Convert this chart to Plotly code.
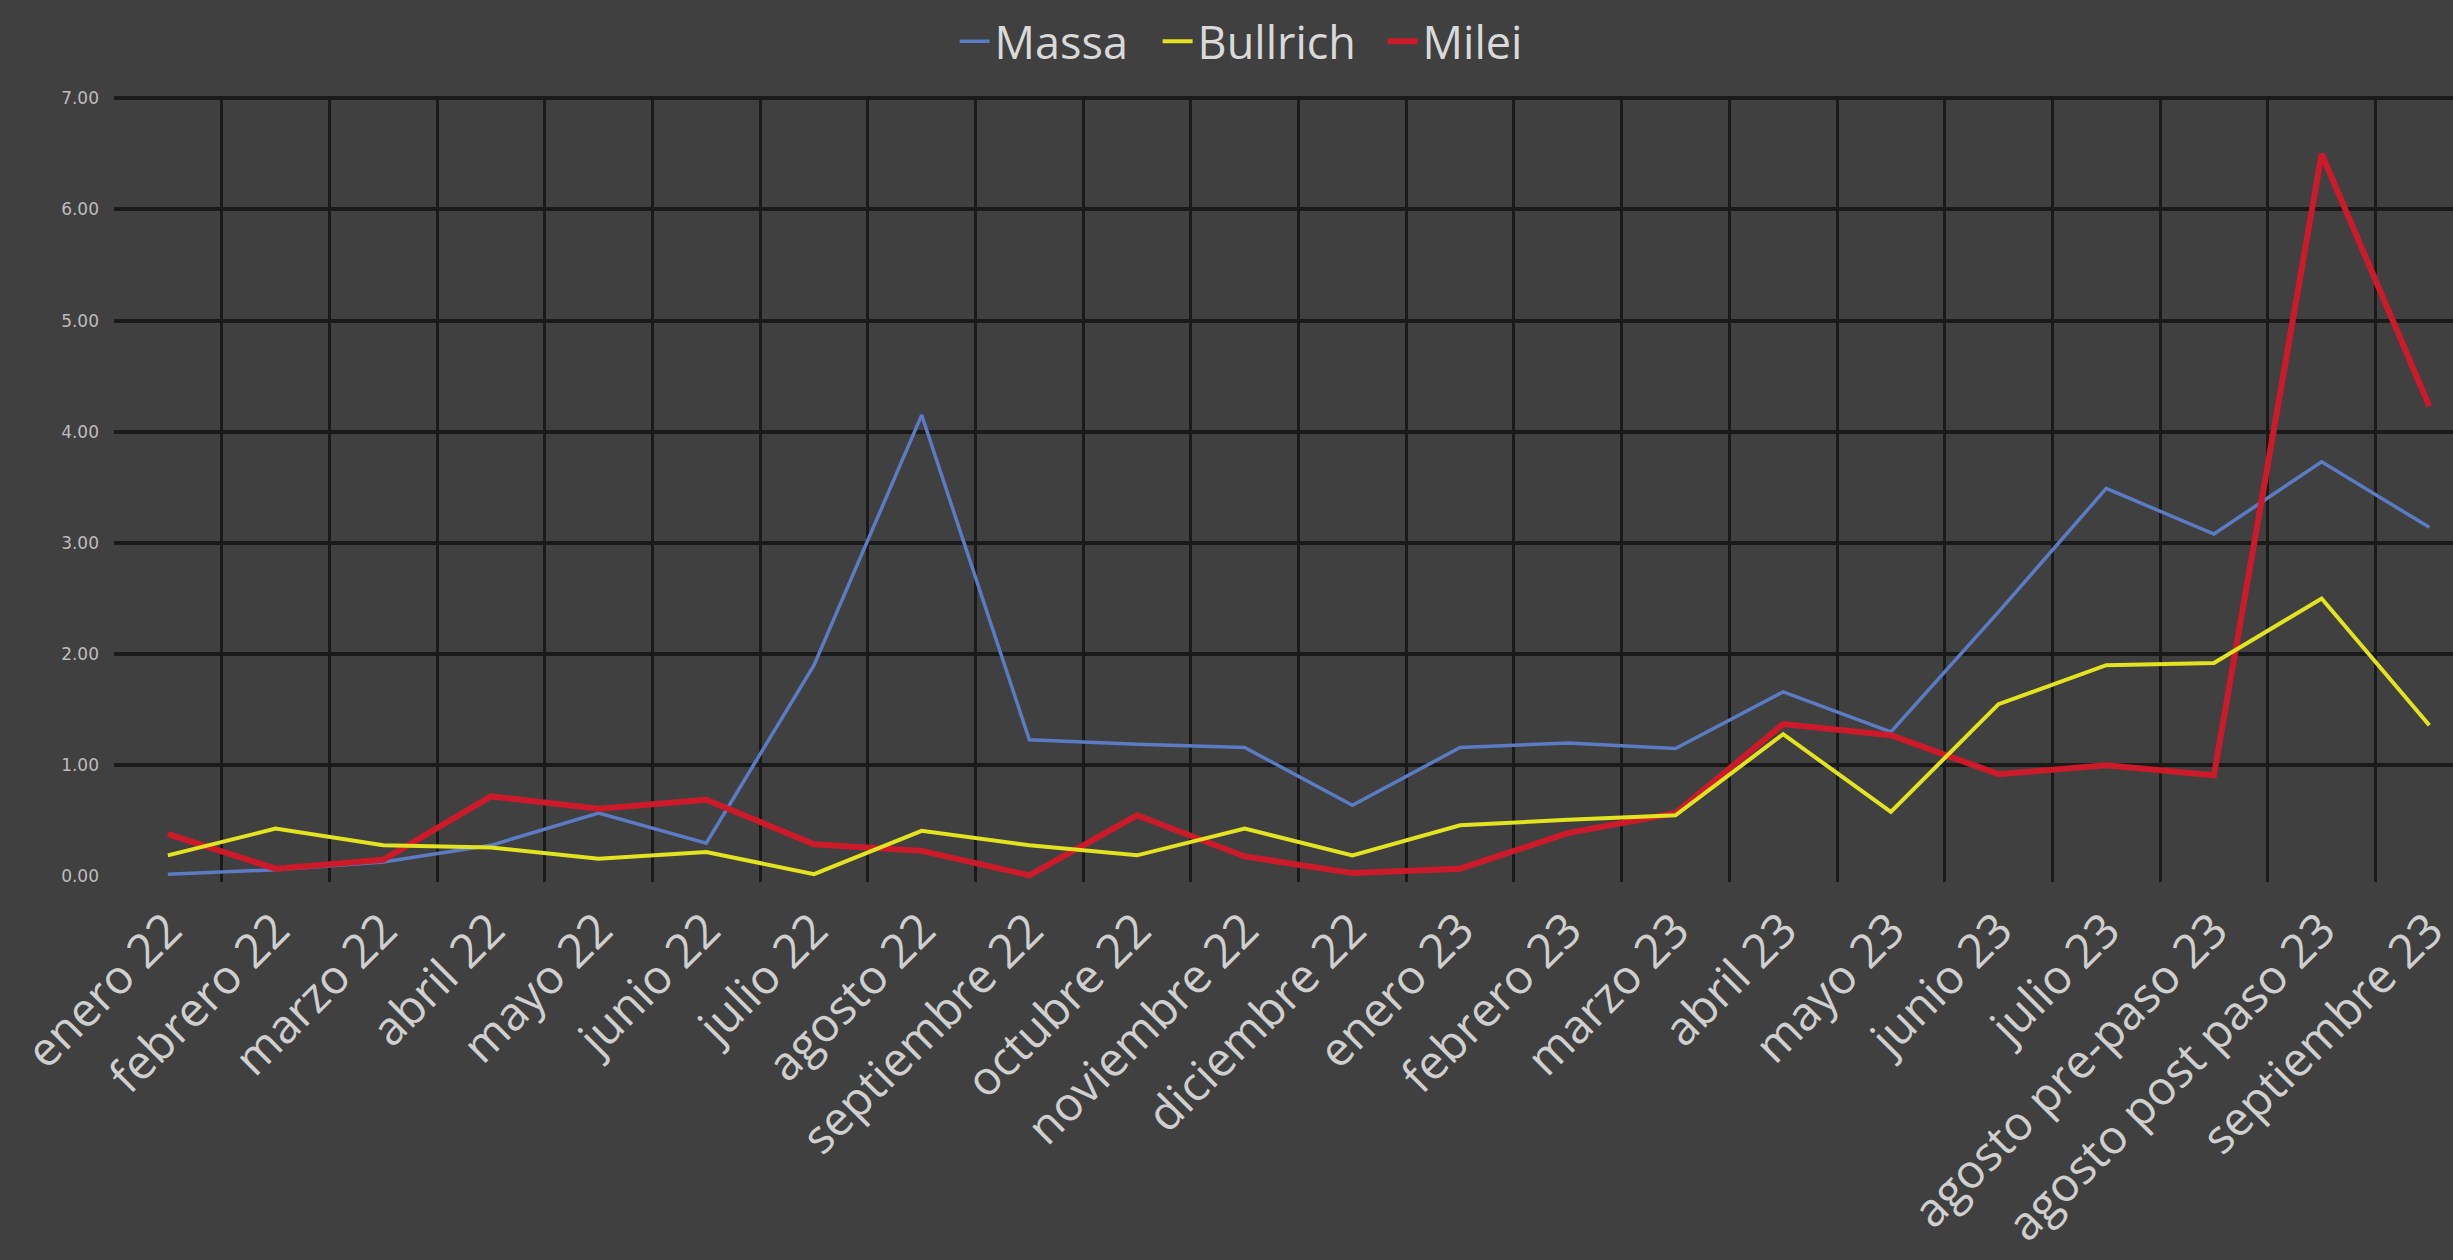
import plotly.graph_objects as go

categories = [
    "enero 22", "febrero 22", "marzo 22", "abril 22", "mayo 22", "junio 22",
    "julio 22", "agosto 22", "septiembre 22", "octubre 22", "noviembre 22",
    "diciembre 22", "enero 23", "febrero 23", "marzo 23", "abril 23", "mayo 23",
    "junio 23", "julio 23", "agosto pre-paso 23", "agosto post paso 23",
    "septiembre 23",
]

massa = [0.02, 0.06, 0.13, 0.28, 0.57, 0.30, 1.90, 4.15, 1.23, 1.19, 1.16,
         0.64, 1.16, 1.20, 1.15, 1.66, 1.30, 2.38, 3.49, 3.08, 3.73, 3.14]
bullrich = [0.19, 0.43, 0.28, 0.26, 0.16, 0.22, 0.02, 0.41, 0.28, 0.19, 0.43,
            0.19, 0.46, 0.51, 0.55, 1.28, 0.58, 1.55, 1.90, 1.92, 2.50, 1.36]
milei = [0.38, 0.07, 0.15, 0.72, 0.61, 0.69, 0.29, 0.23, 0.01, 0.55, 0.18,
         0.03, 0.07, 0.39, 0.57, 1.37, 1.27, 0.92, 1.00, 0.91, 6.50, 4.23]

ytick_vals = [0, 1, 2, 3, 4, 5, 6, 7]
ytick_text = ["0.00", "1.00", "2.00", "3.00", "4.00", "5.00", "6.00", "7.00"]
ygrid_vals = [1, 2, 3, 4, 5, 6, 7]

BG = "#404040"
GRID = "#1a1a1a"
FONT = "Open Sans"

fig = go.Figure()
# (name, values, colour, width, legend rank, legend entry width, y axis)
series = [
    ("Massa", massa, "#5b7bc4", 3.5, 1, 158, "y"),
    ("Milei", milei, "#cc1a2a", 6, 3, 110, "y"),
    ("Bullrich", bullrich, "#e3e320", 4, 2, 180, "y2"),
]
for name, vals, color, width, rank, lw, yax in series:
    fig.add_trace(go.Scatter(
        x=categories, y=vals, mode="lines", name=name, yaxis=yax,
        line=dict(color=color, width=width), legendrank=rank,
        legendwidth=lw,
    ))

yrange = [-0.05, 7.02]
fig.update_layout(
    width=2453, height=1260,
    paper_bgcolor=BG, plot_bgcolor=BG,
    margin=dict(l=114, r=0, t=96, b=378, pad=0),
    showlegend=True,
    legend=dict(
        orientation="h", xref="container", yref="container",
        x=0.508, xanchor="center", y=0.967, yanchor="middle",
        font=dict(family=FONT, size=45, color="#d9d9d9"),
        bgcolor="rgba(0,0,0,0)", itemwidth=30,
    ),
    xaxis=dict(
        type="category", categoryorder="array", categoryarray=categories,
        range=[-0.5, 21.22], tickson="boundaries",
        showgrid=True, gridcolor=GRID, gridwidth=2.5,
        tickangle=-45, ticks="", showline=False, zeroline=False,
        tickfont=dict(family=FONT, size=47, color="#cfcfcf"),
        ticklabelstandoff=10, automargin=False,
    ),
    yaxis=dict(
        range=yrange, tickvals=ytick_vals, ticktext=ytick_text,
        showgrid=False, zeroline=False, showline=False, ticks="",
        tickfont=dict(family="DejaVu Sans", size=17, color="#bdbdbd"),
        ticklabelstandoff=14, automargin=False,
    ),
    yaxis2=dict(
        overlaying="y", anchor="x", range=yrange, tickvals=ygrid_vals,
        showgrid=True, gridcolor=GRID, gridwidth=4, showticklabels=False,
        zeroline=False, showline=False, ticks="",
    ),
)

fig.write_html(
    "out.html",
    config={"displayModeBar": False},
    post_script="document.body.style.margin='0';document.body.style.overflow='hidden';",
)
